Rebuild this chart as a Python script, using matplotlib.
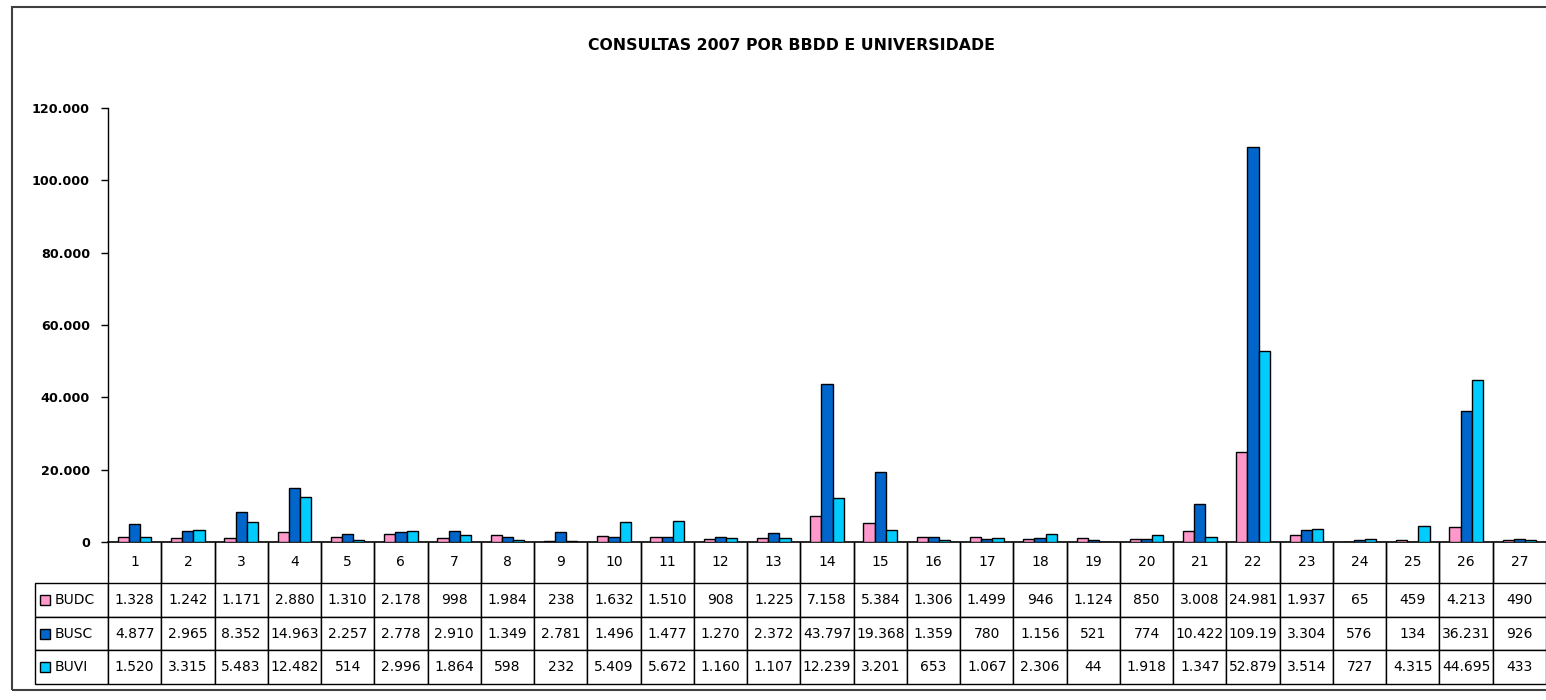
import matplotlib
matplotlib.use('Agg')
import matplotlib.pyplot as plt
from matplotlib.patches import Rectangle
import numpy as np

# ---------------- data ----------------
categories = [str(i) for i in range(1, 28)]
series_names = ['BUDC', 'BUSC', 'BUVI']
budc = [1328, 1242, 1171, 2880, 1310, 2178, 998, 1984, 238, 1632, 1510, 908, 1225, 7158,
        5384, 1306, 1499, 946, 1124, 850, 3008, 24981, 1937, 65, 459, 4213, 490]
busc = [4877, 2965, 8352, 14963, 2257, 2778, 2910, 1349, 2781, 1496, 1477, 1270, 2372, 43797,
        19368, 1359, 780, 1156, 521, 774, 10422, 109190, 3304, 576, 134, 36231, 926]
buvi = [1520, 3315, 5483, 12482, 514, 2996, 1864, 598, 232, 5409, 5672, 1160, 1107, 12239,
        3201, 653, 1067, 2306, 44, 1918, 1347, 52879, 3514, 727, 4315, 44695, 433]
y_ticks = [0, 20000, 40000, 60000, 80000, 100000, 120000]
title = 'CONSULTAS 2007 POR BBDD E UNIVERSIDADE'

series = [budc, busc, buvi]
colors = ['#FF99CC', '#0066CC', '#00CCFF']


def thousands(v):
    return f"{v:,}".replace(',', '.')


def cell_fmt(v):
    return thousands(v)[:6]  # table cell clips long numbers as in the original


# ---------------- layout (pixels) ----------------
W, H = 1546, 700
ax_l, ax_r, ax_t, ax_b = 108, 1546, 108, 542
tab_l, tab_hdr_b, tab_b = 35, 583, 684
ax_w = ax_r - ax_l
ax_h = ax_b - ax_t

fig = plt.figure(figsize=(W / 100, H / 100), dpi=100)
ax = fig.add_axes([ax_l / W, 1 - ax_b / H, ax_w / W, ax_h / H])

x = np.arange(len(categories))
bw = 0.21
for i, (vals, col) in enumerate(zip(series, colors)):
    ax.bar(x + (i - 1) * bw, vals, bw, color=col, edgecolor='black', linewidth=1, zorder=3)

ax.set_xlim(-0.5, len(categories) - 0.5)
ax.set_ylim(0, 120000)
ax.set_yticks(y_ticks)
ax.set_yticklabels([thousands(v) for v in y_ticks])
for lbl in ax.get_yticklabels():
    lbl.set_fontweight('bold')
ax.tick_params(axis='y', direction='out', length=5, width=1, labelsize=9.2, pad=8)
ax.set_xticks([])
for s in ['top', 'right']:
    ax.spines[s].set_visible(False)
ax.spines['left'].set_linewidth(1)
ax.spines['bottom'].set_linewidth(1.2)

# ---------------- data table ----------------
rows = [[''] + categories] + [[n] + [cell_fmt(v) for v in vals] for n, vals in zip(series_names, series)]
col_w = [ax_l - tab_l] + [ax_w / len(categories)] * len(categories)
col_w = [c / sum(col_w) for c in col_w]
bbox = [(tab_l - ax_l) / ax_w, (ax_b - tab_b) / ax_h, (ax_r - tab_l) / ax_w, (tab_b - ax_b) / ax_h]
tbl = ax.table(cellText=rows, colWidths=col_w, cellLoc='center', bbox=bbox)
tbl.auto_set_font_size(False)
tbl.set_fontsize(10)
hdr_h = tab_hdr_b - ax_b
row_h = (tab_b - tab_hdr_b) / 3
for (r, c), cell in tbl.get_celld().items():
    cell.set_linewidth(1.0)
    cell.set_edgecolor('black')
    cell.set_height(hdr_h if r == 0 else row_h)
    if r == 0:
        cell.visible_edges = '' if c == 0 else 'LR'
    if c == 0 and r > 0:
        cell._loc = 'left'
        cell.get_text().set_horizontalalignment('left')
        cell.PAD = 20 / (ax_l - tab_l)

# legend keys inside row label cells
for i, col in enumerate(colors):
    cy = tab_hdr_b + row_h * (i + 0.5)
    sq = 10
    rect = Rectangle(((40 - ax_l) / ax_w, (ax_b - (cy + sq / 2)) / ax_h), sq / ax_w, sq / ax_h,
                     transform=ax.transAxes, facecolor=col, edgecolor='black', linewidth=1,
                     clip_on=False, zorder=5)
    ax.add_artist(rect)

# ---------------- title & frame ----------------
fig.text(791 / W, 1 - 46 / H, title, ha='center', va='center', fontsize=11.3, fontweight='bold')
frame = Rectangle((12 / W, 1 - 690 / H), 1.2, (690 - 7) / H, transform=fig.transFigure,
                  fill=False, edgecolor='#404040', linewidth=1.5)
fig.add_artist(frame)

fig.savefig('out.png', dpi=100)
